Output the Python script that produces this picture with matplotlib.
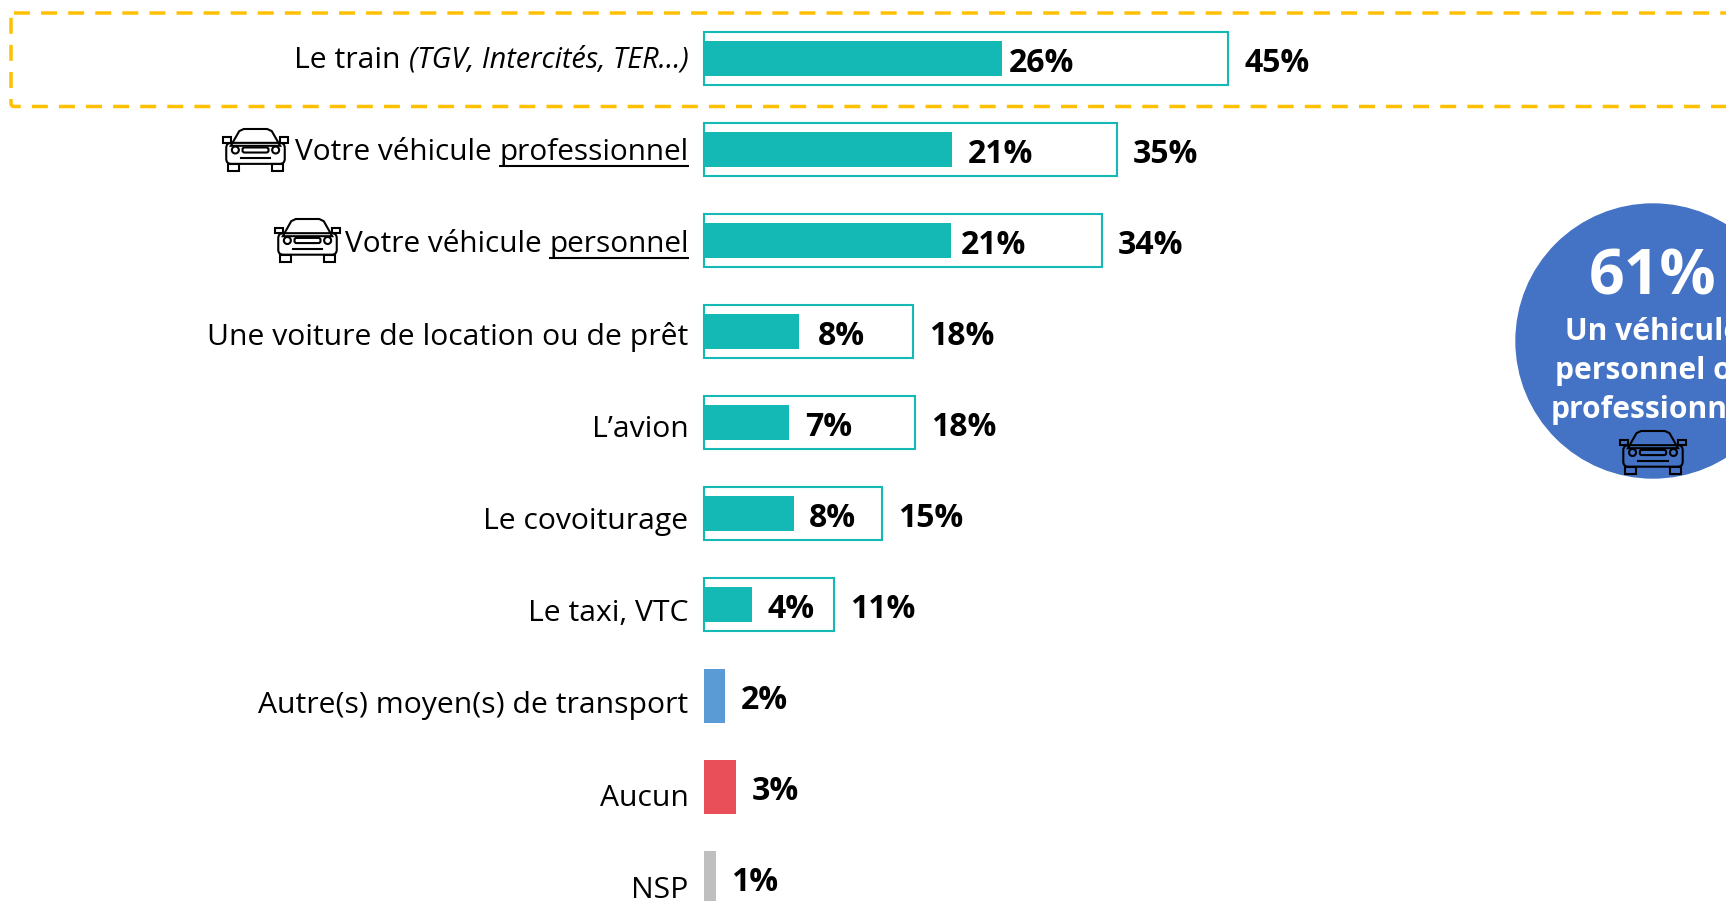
import matplotlib
matplotlib.use('Agg')
import matplotlib.pyplot as plt
from matplotlib.patches import Circle, FancyBboxPatch, Rectangle, Polygon

plt.rcParams['font.family'] = ['Open Sans', 'DejaVu Sans']

# values
categories = ['Le train', 'Votre véhicule professionnel', 'Votre véhicule personnel',
              'Une voiture de location ou de prêt', "L’avion", 'Le covoiturage', 'Le taxi, VTC',
              'Autre(s) moyen(s) de transport', 'Aucun', 'NSP']
first_values = [25.5, 21.2, 21.1, 8.1, 7.3, 7.7, 4.1, 1.8, 2.7, 1.0]
total_values = [44.8, 35.3, 34.0, 17.9, 18.0, 15.2, 11.1]
first_labels = ['26%', '21%', '21%', '8%', '7%', '8%', '4%', '2%', '3%', '1%']
total_labels = ['45%', '35%', '34%', '18%', '18%', '15%', '11%']
first_colors = ['#14B8B5'] * 7 + ['#5B9BD5', '#E94F58', '#BFBFBF']

TEAL = '#14B8B5'
W, H = 1726, 901
x0 = 704
px_per_pct = 11.7
row0 = 59
row_h = 91

fig = plt.figure(figsize=(W / 100, H / 100), dpi=100)

# chart axes: x in percent, y in row number
ax = fig.add_axes([0, 0, 1, 1])
ax.set_xlim(-x0 / px_per_pct, (W - x0) / px_per_pct)
ax.set_ylim((H - row0) / row_h, -row0 / row_h)
ax.axis('off')

rows = list(range(len(categories)))
ax.barh(rows[:len(total_values)], total_values, height=53 / row_h, color='white',
        edgecolor=TEAL, linewidth=1.5)
for i in rows:
    # bars inside the outlined ones are thinner
    bar_h = 35 if i < len(total_values) else 54
    ax.barh(i, first_values[i], height=bar_h / row_h, color=first_colors[i])

# the labels do not sit at the same distance from the bar everywhere
first_offsets = [6, 16, 10, 19, 16, 15, 16, 16, 16, 15]
for i in rows:
    ax.annotate(first_labels[i], (first_values[i], i), xytext=(first_offsets[i] * 0.72, -3),
                textcoords='offset points', ha='left', va='center',
                fontsize=23, fontweight='bold', color='black')
for i in range(len(total_values)):
    ax.annotate(total_labels[i], (total_values[i], i), xytext=(16 * 0.72, -3),
                textcoords='offset points', ha='left', va='center',
                fontsize=23, fontweight='bold', color='black')

# overlay in pixels for the decorations
deco = fig.add_axes([0, 0, 1, 1])
deco.set_xlim(0, W)
deco.set_ylim(H, 0)
deco.axis('off')
deco.patch.set_alpha(0)

deco.add_patch(FancyBboxPatch((11, 13), 2000, 93.5, boxstyle='round,pad=0,rounding_size=3',
                              fill=False, edgecolor='#FFC000', linewidth=2.5,
                              linestyle=(0, (4.6, 3.2))))

deco.add_patch(Circle((1653, 341), 137, color='#4472C4', zorder=1))
deco.text(1653, 278, '61%', color='white', fontsize=45, fontweight='bold', ha='center', va='center')
for y, line in zip([332, 371, 410], ['Un véhicule', 'personnel ou', 'professionnel']):
    deco.text(1653, y, line, color='white', fontsize=21.6, fontweight='bold', ha='center', va='center')


def draw_car(x, y, w, h):
    # small car icon, x,y = top left corner in pixels
    def px(u, v):
        return (x + u * w, y + v * h)
    line = dict(fill=False, edgecolor='black', linewidth=1.5, zorder=5)
    # cabin
    deco.add_patch(Polygon([px(0.12, 0.40), px(0.25, 0.05), px(0.32, 0), px(0.68, 0), px(0.75, 0.05), px(0.88, 0.40)],
                           closed=True, **line))
    # body
    deco.add_patch(FancyBboxPatch(px(0.05, 0.33), 0.90 * w, 0.50 * h,
                                  boxstyle='round,pad=0,rounding_size=5', **line))
    # mirrors
    deco.add_patch(Rectangle(px(0, 0.20), 0.12 * w, 0.13 * h, **line))
    deco.add_patch(Rectangle(px(0.88, 0.20), 0.12 * w, 0.13 * h, **line))
    # wheels
    deco.add_patch(Rectangle(px(0.08, 0.83), 0.16 * w, 0.17 * h, **line))
    deco.add_patch(Rectangle(px(0.76, 0.83), 0.16 * w, 0.17 * h, **line))
    # lights
    deco.add_patch(Circle(px(0.19, 0.50), 3.5, **line))
    deco.add_patch(Circle(px(0.81, 0.50), 3.5, **line))
    # grille
    deco.add_patch(FancyBboxPatch(px(0.30, 0.44), 0.40 * w, 0.12 * h,
                                  boxstyle='round,pad=0,rounding_size=2', **line))
    deco.plot([x + 0.28 * w, x + 0.72 * w], [y + 0.70 * h, y + 0.70 * h], color='black', lw=1.5, zorder=5)


draw_car(223, 129, 65, 42)
draw_car(275, 219, 65, 43)
draw_car(1620, 431, 66, 43)

fig.canvas.draw()
renderer = fig.canvas.get_renderer()


def right_text(pieces, right, y):
    # pieces go from the right to the left, each one (text, size, style, underlined)
    for txt, size, style, under in pieces:
        t = deco.text(right, y, txt, ha='right', va='baseline', fontsize=size, style=style, color='black')
        box = t.get_window_extent(renderer)
        if under:
            deco.plot([right - box.width, right], [y + 6, y + 6], color='black', lw=1.5, solid_capstyle='butt')
        right -= box.width + (8 if txt.startswith('(') else 0)


label_size = 21.7
vehicle_size = 21.4
label_right = 688.5
label_y0 = 68
label_pitch = 92.2
pieces = {
    0: [('(TGV, Intercités, TER…)', 20.8, 'italic', False), ('Le train', label_size, 'normal', False)],
    1: [('professionnel', vehicle_size, 'normal', True), ('Votre véhicule ', vehicle_size, 'normal', False)],
    2: [('personnel', vehicle_size, 'normal', True), ('Votre véhicule ', vehicle_size, 'normal', False)],
}
for i in rows:
    right_text(pieces.get(i, [(categories[i], label_size, 'normal', False)]), label_right, label_y0 + label_pitch * i)

fig.savefig('out.png', dpi=100)
